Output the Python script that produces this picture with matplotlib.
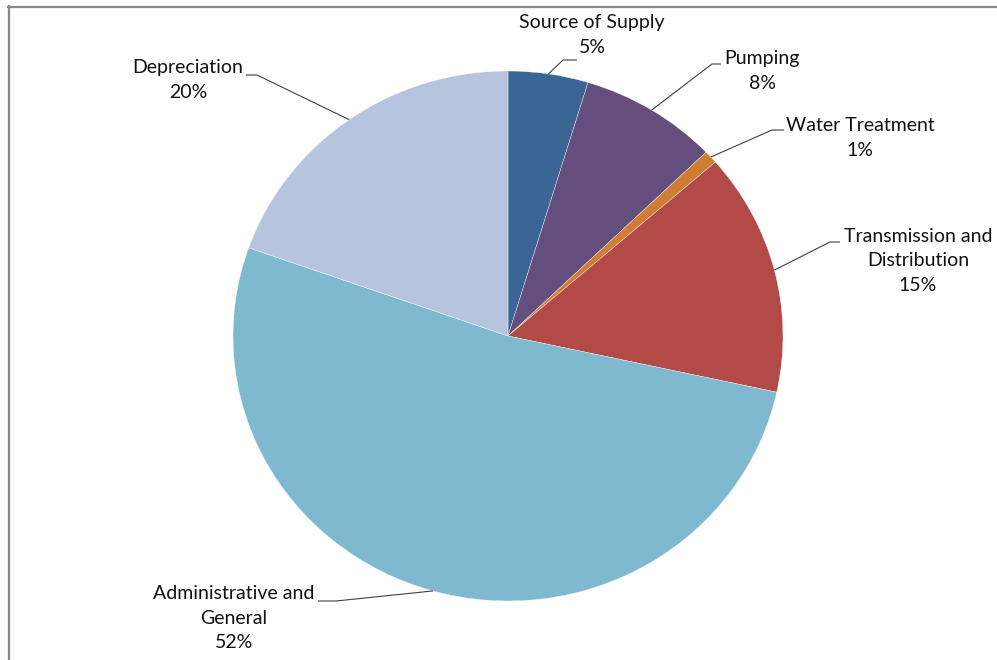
import matplotlib
matplotlib.use("Agg")
import matplotlib.pyplot as plt
import numpy as np
from matplotlib.lines import Line2D

categories = ["Source of Supply", "Pumping", "Water Treatment",
              "Transmission and\nDistribution", "Administrative and\nGeneral", "Depreciation"]
values = [4.7, 8.1, 0.8, 14.8, 52.0, 19.6]
colors = ["#3A6595", "#644E7E", "#D07D34", "#B24A47", "#7EB9CF", "#B7C4DE"]

W, H = 997, 660
cx, cy, rx, ry = 508, 336, 275, 265

# label layout in pixels: text centre, elbow, end of horizontal segment
label_pos = [(592, 35), (762, 71), (860, 138), (918, 261), (234, 618), (188, 80)]
elbows = [((563, 60), (577, 60)), ((712, 64), (721, 64)), ((772, 130), (784, 130)),
          ((830, 242), (840, 242)), ((336, 601), (318, 601)), ((257, 75), (246, 75))]

plt.rcParams['font.family'] = ['Lato', 'DejaVu Sans']

fig = plt.figure(figsize=(W / 100, H / 100), dpi=100)
ax = fig.add_axes([0, 0, 1, 1])

def px(x, y):
    return (x - cx) / rx, (cy - y) / ry

wedges, _ = ax.pie(values, colors=colors, startangle=90, counterclock=False,
                   radius=1, center=(0, 0), frame=True,
                   wedgeprops=dict(edgecolor="white", linewidth=0.25))
ax.set_aspect("auto")
ax.set_xlim(-cx / rx, (W - cx) / rx)
ax.set_ylim(-(H - cy) / ry, cy / ry)
ax.axis("off")

total = sum(values)
for w, name, v, (tx, ty), (elb, end) in zip(wedges, categories, values, label_pos, elbows):
    mid = np.deg2rad((w.theta1 + w.theta2) / 2)
    ex, ey = np.cos(mid), np.sin(mid)
    bx, by = px(*elb)
    hx, hy = px(*end)
    ax.plot([ex, bx, hx], [ey, by, hy], color="#404040", lw=0.8, solid_capstyle="butt")
    lx, ly = px(tx, ty)
    ax.text(lx, ly, f"{name}\n{round(v / total * 100)}%", ha="center", va="center",
            fontsize=14, color="#111111", linespacing=1.55)

fig.add_artist(Line2D([8 / W, 1], [1 - 6.5 / H, 1 - 6.5 / H], color="#888888", lw=1.6,
                      transform=fig.transFigure))
fig.add_artist(Line2D([8.5 / W, 8.5 / W], [0, 1 - 6 / H], color="#888888", lw=1.6,
                      transform=fig.transFigure))

fig.savefig("out.png", dpi=100, facecolor="white")
